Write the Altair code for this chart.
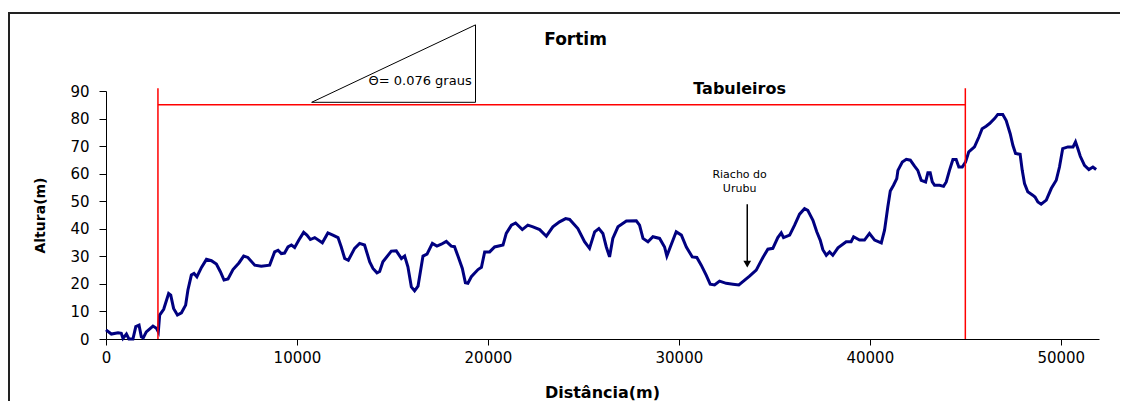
import altair as alt
import pandas as pd

# Elevation profile (distance in m, altitude in m)
dist = [0, 280, 630, 800, 890, 1070, 1200, 1410, 1560, 1730, 1850, 1950, 2110, 2460, 2640, 2740,
        2810, 3020, 3280, 3390, 3540, 3740, 3950, 4170, 4290, 4470, 4610, 4760, 5000, 5260, 5520,
        5780, 5990, 6180, 6390, 6650, 6960, 7210, 7430, 7790, 8130, 8570, 8830, 9010, 9180, 9350,
        9530, 9710, 9880, 10100, 10350, 10520, 10700, 10930, 11330, 11620, 11880, 12150, 12320,
        12500, 12690, 13020, 13280, 13540, 13810, 13980, 14190, 14330, 14500, 14940, 15200, 15470,
        15640, 15810, 15990, 16160, 16340, 16600, 16810, 17090, 17330, 17560, 17820, 18080, 18250,
        18430, 18660, 18820, 18950, 19130, 19480, 19660, 19830, 20090, 20350, 20790, 20960, 21230,
        21450, 21800, 22090, 22360, 22710, 23060, 23400, 23750, 24070, 24280, 24710, 25060, 25320,
        25590, 25810, 26020, 26200, 26370, 26540, 26810, 27250, 27770, 27940, 28120, 28380, 28640,
        28990, 29250, 29370, 29550, 29860, 30130, 30390, 30700, 30940, 31170, 31430, 31640, 31870,
        32130, 32480, 32830, 33140, 33350, 33700, 34050, 34400, 34660, 34920, 35180, 35360, 35480,
        35800, 36060, 36320, 36580, 36750, 37020, 37220, 37400, 37540, 37720, 37890, 38060, 38330,
        38760, 39020, 39150, 39460, 39720, 39980, 40250, 40600, 40770, 40940, 41070, 41240, 41410,
        41470, 41700, 41910, 42120, 42340, 42510, 42690, 42920, 43040, 43160, 43270, 43390, 43650,
        43860, 44000, 44170, 44350, 44520, 44660, 44840, 45010, 45180, 45480, 45710, 45880, 46090,
        46270, 46530, 46700, 46960, 47140, 47350, 47490, 47630, 47870, 47980, 48100, 48270, 48530,
        48650, 48800, 48970, 49240, 49500, 49760, 49930, 50100, 50370, 50640, 50770, 50890, 51020,
        51240, 51470, 51680, 51850]
altura = [3.3, 1.8, 2.3, 2.1, 0.2, 1.8, 0.0, 0.0, 4.5, 5.0, 0.8, 0.4, 2.6, 4.7, 3.9, 2.6,
          8.7, 10.8, 16.5, 15.9, 11.1, 8.7, 9.5, 12.3, 17.8, 23.2, 23.8, 22.6, 26.0, 28.9, 28.4,
          27.2, 24.4, 21.4, 21.8, 25.2, 27.6, 30.1, 29.6, 26.8, 26.4, 26.8, 31.6, 32.2, 31.0, 31.2,
          33.4, 34.1, 33.2, 35.9, 38.7, 37.7, 36.1, 36.8, 34.9, 38.5, 37.7, 36.8, 33.4,
          29.2, 28.6, 32.9, 34.7, 34.1, 28.0, 25.6, 24.0, 24.5, 28.0, 31.9, 32.0, 29.2,
          30.1, 26.2, 18.9, 17.5, 19.2, 30.1, 30.8, 34.7, 33.7, 34.4, 35.4, 33.7, 33.5,
          30.1, 25.6, 20.4, 20.2, 22.6, 25.2, 26.0, 31.6, 31.6, 33.4, 34.1, 38.3, 41.3,
          42.1, 39.7, 41.3, 40.7, 39.7, 37.3, 40.7, 42.5, 43.7, 43.4, 40.1, 35.3, 32.9,
          38.9, 40.1, 38.3, 33.4, 29.8, 36.5, 40.7, 42.8, 42.9, 41.3, 36.5, 35.3, 37.1,
          36.5, 33.4, 30.1, 33.4, 38.9, 37.7, 33.4, 29.8, 29.6, 26.8, 23.2, 19.9, 19.6,
          21.0, 20.2, 19.9, 19.6, 20.8, 22.8, 25.0, 29.6, 32.6, 32.9, 36.8, 38.5, 36.8,
          37.7, 41.3, 45.3, 47.3, 46.7, 43.1, 38.9, 35.9, 32.4, 30.4, 31.6, 30.4, 33.1,
          35.3, 35.3, 37.1, 35.9, 35.9, 38.3, 35.9, 34.9, 39.5, 47.9, 53.7, 55.8, 58.2,
          61.2, 64.2, 65.2, 64.9, 62.7, 61.2, 57.6, 57.0, 60.3, 60.3, 57.0, 55.8, 55.8,
          55.4, 57.0, 61.2, 65.1, 65.1, 62.4, 62.4, 64.2, 67.9, 69.7, 73.3, 76.3, 77.2,
          78.2, 80.0, 81.5, 81.5, 79.3, 74.5, 70.3, 67.3, 67.0, 61.2, 56.4, 53.4, 52.2,
          51.5, 49.7, 48.9, 50.4, 54.6, 57.6, 62.4, 69.1, 69.7, 69.7, 71.5, 69.1, 66.3,
          63.0, 61.5, 62.4, 61.5]

x_ticks = [0, 10000, 20000, 30000, 40000, 50000]
y_ticks = [0, 10, 20, 30, 40, 50, 60, 70, 80, 90]
x_title = "Dist\u00e2ncia(m)"
y_title = "Altura(m)"

# Annotations (data coordinates)
boundary_x = [2720, 45000]          # limits of "Tabuleiros"
boundary_top = 91
bracket_y = 85
tri_x = [10770, 19350, 19350, 10770]
tri_y = [85.9, 85.9, 114, 85.9]
theta_label = "\u0398= 0.076 graus"
theta_pos = (19150, 93.6)
chart_title = "Fortim"
title_pos = (24590, 108.5)
zone_label = "Tabuleiros"
zone_pos = (33180, 90.9)
river_lines = ["Riacho do", "Urubu"]
river_x = 33180
river_y = [59.6, 54.3]
arrow_x = 33580
arrow_from = 48.9
arrow_to = 27.2

FONT = "DejaVu Sans"

profile = pd.DataFrame({"dist": dist, "alt": altura})

xscale = alt.Scale(domain=[0, 52000], nice=False)
yscale = alt.Scale(domain=[0, 90], nice=False)
x_axis = alt.Axis(values=x_ticks, format="d", title=x_title,
                  titleX=496, titleY=53, titleBaseline="middle",
                  titleFontSize=16, labelPadding=5, tickSize=6,
                  labelOverlap=False, labelFlush=False)
y_axis = alt.Axis(values=y_ticks, title=y_title, titleX=-66, titleY=124,
                  titleBaseline="middle", titleFontSize=14, labelPadding=10,
                  tickSize=7, labelOverlap=False, labelFlush=False)


def X(field):
    return alt.X(field, scale=xscale, axis=x_axis)


def Y(field):
    return alt.Y(field, scale=yscale, axis=y_axis)


line = alt.Chart(profile).mark_line(color="#000080", strokeWidth=3, clip=False).encode(
    x=X("dist:Q"), y=Y("alt:Q"))

bounds_df = pd.DataFrame({"x": boundary_x, "y0": [0, 0], "y1": [boundary_top, boundary_top]})
vrules = alt.Chart(bounds_df).mark_rule(color="#ff0000", strokeWidth=1.5).encode(
    x=X("x:Q"), y=Y("y0:Q"), y2="y1:Q")

bracket_df = pd.DataFrame({"x0": [boundary_x[0]], "x1": [boundary_x[1]], "y": [bracket_y]})
hrule = alt.Chart(bracket_df).mark_rule(color="#ff0000", strokeWidth=1.5).encode(
    x=X("x0:Q"), x2="x1:Q", y=Y("y:Q"))

tri_df = pd.DataFrame({"x": tri_x, "y": tri_y, "o": list(range(len(tri_x)))})
triangle = alt.Chart(tri_df).mark_line(color="black", strokeWidth=1, clip=False).encode(
    x=X("x:Q"), y=Y("y:Q"), order="o:Q")

theta_df = pd.DataFrame({"x": [theta_pos[0]], "y": [theta_pos[1]], "t": [theta_label]})
theta_txt = alt.Chart(theta_df).mark_text(font=FONT, fontSize=13, align="right",
                                          baseline="middle", color="black").encode(
    x=X("x:Q"), y=Y("y:Q"), text="t:N")

title_df = pd.DataFrame({"x": [title_pos[0]], "y": [title_pos[1]], "t": [chart_title]})
title_txt = alt.Chart(title_df).mark_text(font=FONT, fontSize=17, fontWeight="bold",
                                          align="center", baseline="middle",
                                          color="black").encode(
    x=X("x:Q"), y=Y("y:Q"), text="t:N")

zone_df = pd.DataFrame({"x": [zone_pos[0]], "y": [zone_pos[1]], "t": [zone_label]})
zone_txt = alt.Chart(zone_df).mark_text(font=FONT, fontSize=16, fontWeight="bold",
                                        align="center", baseline="middle",
                                        color="black").encode(
    x=X("x:Q"), y=Y("y:Q"), text="t:N")

river_df = pd.DataFrame({"x": [river_x] * len(river_lines), "y": river_y, "t": river_lines})
river_txt = alt.Chart(river_df).mark_text(font=FONT, fontSize=11, align="center",
                                          baseline="middle", color="black").encode(
    x=X("x:Q"), y=Y("y:Q"), text="t:N")

arrow_df = pd.DataFrame({"x": [arrow_x], "y0": [arrow_from], "y1": [arrow_to]})
arrow_line = alt.Chart(arrow_df).mark_rule(color="black", strokeWidth=1.5).encode(
    x=X("x:Q"), y=Y("y0:Q"), y2="y1:Q")
arrow_head = alt.Chart(arrow_df).mark_point(shape="triangle-down", filled=True,
                                            color="black", size=60, opacity=1).encode(
    x=X("x:Q"), y=Y("y1:Q"))

# Outer frame (decoration, as in the original picture)
frame_top = alt.Chart(pd.DataFrame({"a": [0]})).mark_rule(color="#222222", strokeWidth=2).encode(
    x=alt.value(-97), x2=alt.value(1040), y=alt.value(-78))
frame_left = alt.Chart(pd.DataFrame({"a": [0]})).mark_rule(color="#222222", strokeWidth=2).encode(
    x=alt.value(-97), y=alt.value(-79), y2=alt.value(340))

chart = alt.layer(
    line, frame_top, frame_left, vrules, hrule, triangle, theta_txt, title_txt, zone_txt,
    river_txt, arrow_line, arrow_head
).properties(
    width=993, height=248,
    autosize=alt.AutoSizeParams(type="none"),
    padding={"left": 98, "top": 83, "right": 21, "bottom": 62},
).configure_view(stroke=None).configure_axis(
    grid=False, domainColor="black", tickColor="black", labelColor="black",
    titleColor="black", labelFont=FONT, labelFontSize=15, titleFont=FONT,
    titleFontWeight="bold", domainWidth=1, tickWidth=1,
)

chart.save("out.html", embed_options={"renderer": "svg", "actions": False})
